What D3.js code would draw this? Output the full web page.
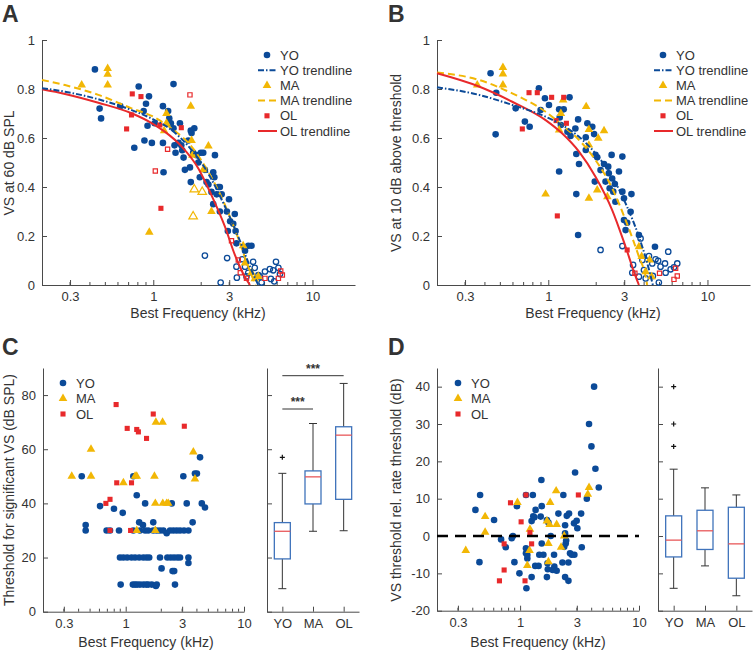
<!DOCTYPE html>
<html>
<head>
<meta charset="utf-8">
<script src="https://cdn.jsdelivr.net/npm/d3@7"></script>
<style>
  body { margin: 0; background: #fff; }
  svg text { font-family: "Liberation Sans", Arial, sans-serif; fill: #333; }
</style>
</head>
<body>
<div id="chart"></div>
<script>
// ---------- data (frequency in kHz, value) ----------
const freqTicks = [0.3, 1, 3, 10];
const groups = ["YO", "MA", "OL"];

// panel A: VS at 60 dB SPL
const aYO = [[0.43,0.88],[0.46,0.72],[0.47,0.68],[0.62,0.73],[0.76,0.56],[0.81,0.81],[0.88,0.59],[0.87,0.71],[0.90,0.74],[0.92,0.65],[0.94,0.77],[0.98,0.58],[1.02,0.66],[1.15,0.73],[1.15,0.58],[1.16,0.46],[1.24,0.71],[1.26,0.68],[1.29,0.66],[1.34,0.82],[1.34,0.64],[1.36,0.57],[1.38,0.54],[1.44,0.58],[1.47,0.66],[1.50,0.57],[1.52,0.55],[1.55,0.52],[1.58,0.47],[1.66,0.59],[1.70,0.48],[1.72,0.63],[1.74,0.62],[1.81,0.64],[1.72,0.42],[1.78,0.54],[1.87,0.53],[1.92,0.50],[1.96,0.44],[1.99,0.54],[2.06,0.54],[2.11,0.47],[2.16,0.42],[2.22,0.41],[2.32,0.38],[2.38,0.46],[2.42,0.44],[2.44,0.53],[2.38,0.33],[2.50,0.37],[2.56,0.40],[2.62,0.40],[2.69,0.37],[2.62,0.30],[2.99,0.35],[2.90,0.30],[3.04,0.26],[2.94,0.22],[3.18,0.25],[3.25,0.29],[3.29,0.22],[3.33,0.17],[3.77,0.14],[3.95,0.16],[4.14,0.16]];
const aYOopen = [[2.11,0.12],[2.65,0.01],[2.91,0.11],[3.33,0.075],[3.35,0.03],[3.62,0.105],[3.77,0.075],[3.85,0.035],[3.95,0.05],[4.24,0.095],[4.34,0.07],[4.57,0.04],[4.67,0.035],[4.79,0.01],[5.03,0.055],[5.40,0.065],[5.48,0.025],[5.67,0.06],[5.90,0.095],[6.11,0.07],[5.75,0.015],[6.25,0.045]];
const aMA = [[0.355,0.816],[0.517,0.884],[0.517,0.86],[0.517,0.816],[0.944,0.215],[1.21,0.70],[1.21,0.66],[1.17,0.63],[1.72,0.73],[1.74,0.59],[1.76,0.53],[2.06,0.47],[2.22,0.567],[2.32,0.30],[3.67,0.16],[3.77,0.09],[4.14,0.05],[4.57,0.035],[4.34,0.025]];
const aMAopen = [[1.81,0.39],[2.03,0.38],[1.78,0.28]];
const aOL = [[0.68,0.637],[0.738,0.78],[0.73,0.694],[0.837,0.769],[1.117,0.313],[1.10,0.653],[1.50,0.642]];
const aOLopen = [[1.70,0.776],[1.03,0.465],[1.23,0.554],[3.10,0.181],[3.42,0.102],[3.52,0.05],[3.85,0.027],[5.03,0.027],[6.11,0.027],[6.32,0.057],[6.47,0.041]];
const aTrendYO = [[0.2,0.803],[0.279,0.789],[0.452,0.758],[0.731,0.714],[1.0,0.676],[1.30,0.633],[1.74,0.551],[2.21,0.456],[2.82,0.320],[3.42,0.197],[4.05,0.075],[4.57,0]];
const aTrendMA = [[0.2,0.837],[0.279,0.816],[0.452,0.776],[0.731,0.721],[1.0,0.687],[1.30,0.639],[1.74,0.565],[2.21,0.463],[2.82,0.327],[3.42,0.190],[3.95,0.075],[4.39,0]];
const aTrendOL = [[0.2,0.799],[0.279,0.780],[0.452,0.744],[0.731,0.701],[1.0,0.657],[1.18,0.626],[1.51,0.565],[1.92,0.476],[2.32,0.367],[2.82,0.238],[3.26,0.122],[3.76,0.034],[4.05,0]];

// panel B: VS at 10 dB above threshold
const bYO = [[0.434,0.864],[0.471,0.785],[0.467,0.615],[0.624,0.721],[0.713,0.667],[0.764,0.646],[0.873,0.803],[0.895,0.714],[0.953,0.762],[1.01,0.735],[1.17,0.717],[1.18,0.684],[1.20,0.653],[1.25,0.717],[1.17,0.463],[1.32,0.626],[1.36,0.766],[1.38,0.608],[1.48,0.639],[1.50,0.535],[1.54,0.676],[1.56,0.494],[1.50,0.371],[1.54,0.204],[1.72,0.603],[1.76,0.66],[1.72,0.551],[1.89,0.646],[1.94,0.616],[1.96,0.422],[1.98,0.531],[2.03,0.521],[2.13,0.469],[2.24,0.494],[2.29,0.422],[2.38,0.483],[2.40,0.456],[2.43,0.395],[2.50,0.531],[2.52,0.435],[2.56,0.381],[2.64,0.34],[2.62,0.412],[2.78,0.463],[2.92,0.524],[2.92,0.381],[2.99,0.354],[2.99,0.265],[3.06,0.224],[3.13,0.254],[3.29,0.299],[3.33,0.371],[3.71,0.204],[4.68,0.156]];
const bYOopen = [[2.13,0.143],[2.92,0.159],[3.41,0.082],[3.37,0.05],[3.71,0.034],[3.80,0.19],[3.90,0.102],[3.99,0.061],[4.09,0.027],[4.29,0.118],[4.50,0.088],[4.72,0.105],[4.90,0.099],[5.07,0.075],[5.41,0.088],[5.67,0.136],[5.87,0.064],[6.16,0.072],[6.46,0.088],[4.95,0.01],[4.54,0.037],[5.46,0.05]];
const bMA = [[0.358,0.816],[0.519,0.888],[0.519,0.861],[0.519,0.816],[0.962,0.371],[1.24,0.755],[1.20,0.70],[1.17,0.633],[1.73,0.728],[1.80,0.635],[1.80,0.571],[2.06,0.599],[2.24,0.63],[2.03,0.388],[2.35,0.36],[1.80,0.354],[3.71,0.156],[3.86,0.116],[4.33,0.102],[4.46,0.034],[4.09,0.054]];
const bOL = [[0.687,0.637],[0.757,0.785],[0.853,0.785],[1.05,0.766],[1.25,0.766],[1.12,0.671],[1.30,0.66],[1.14,0.282],[3.13,0.143]];
const bOLopen = [[3.50,0.048],[5.00,0.048],[6.31,0.068],[6.46,0.037],[6.16,0.023]];
const bTrendYO = [[0.2,0.807],[0.367,0.776],[0.594,0.735],[0.962,0.687],[1.22,0.653],[1.56,0.605],[1.98,0.537],[2.52,0.442],[3.06,0.333],[3.71,0.197],[4.19,0.088],[4.54,0]];
const bTrendMA = [[0.2,0.867],[0.367,0.837],[0.594,0.782],[0.962,0.707],[1.22,0.653],[1.56,0.592],[1.98,0.51],[2.52,0.395],[3.06,0.265],[3.71,0.116],[4.09,0.034],[4.18,0]];
const bTrendOL = [[0.2,0.864],[0.367,0.81],[0.594,0.748],[0.962,0.673],[1.22,0.619],[1.56,0.544],[1.98,0.442],[2.52,0.306],[3.06,0.156],[3.54,0.034],[3.71,0]];

// panel C: threshold for significant VS (dB SPL)
const cYO = [[0.425,50],[0.459,32],[0.459,30],[0.607,39],[0.796,38],[0.944,36.5],[1.24,43],[1.16,50],[1.30,33],[1.40,32],[1.46,40],[1.71,33],[2.45,40],[3.07,50],[3.28,40],[3.85,51],[4.0,51],[4.25,57],[4.4,40],[4.68,38.5],[3.68,33],
  [0.69,30],[0.737,30],[0.878,30],[1.16,30],[1.32,30],[1.46,30],[1.55,30],[1.71,30],[1.83,30],[1.95,30],[2.08,30],[2.22,29],[2.37,30],[2.53,30],[2.70,30],[2.88,30],[3.11,30],[3.39,30],
  [0.895,20],[0.956,20],[1.03,20],[1.12,20],[1.20,20],[1.30,20],[1.41,20],[1.50,20],[1.58,20],[1.95,20],[2.25,20],[2.40,20],[2.56,20],[2.73,20],[2.88,20],[3.39,20],[3.39,18],
  [2.01,16],[2.49,15],[2.57,15],
  [0.907,10],[1.15,10],[1.20,10],[1.25,10],[1.32,10],[1.41,10],[1.49,10],[1.55,10],[1.66,10],[1.80,9.5],[1.83,10],[2.61,10]];
const cMA = [[0.35,50],[0.509,60],[0.509,50],[0.956,47.6],[1.20,50],[1.24,50],[1.75,50],[1.80,70],[2.05,70],[1.78,40],[2.06,40],[2.22,40],[2.29,40],[3.73,59],[3.85,49],[1.24,30],[1.78,30]];
const cOL = [[0.83,76.5],[1.03,67.7],[1.24,67.3],[1.28,66.4],[1.50,64],[1.71,73],[3.13,68.5],[0.84,47.6],[1.12,47.6],[0.68,40],[0.737,41.5],[0.737,30],[1.10,30]];
// box stats per group: [lower whisker, q1, median, q3, upper whisker]
const cBox = [[8.5,19.5,29.7,32.9,51.1],[29.7,39.8,49.8,52,69.5],[29.9,41.5,65.2,68.3,84.3]];
const cOutliers = [[57],[],[]];

// panel D: VS threshold relative to rate threshold (dB)
const dYO = [[4.19,40],[3.80,30],[3.98,24],[4.30,18],[4.59,13],[3.64,10],[2.90,17],[0.461,11],[0.421,7],[0.455,-7],[0.604,4.3],[0.692,-0.9],[0.757,-3],[0.85,-0.6],[0.87,0],[0.94,8],[0.896,-7],[0.987,-10],[1.12,11],[1.28,11],[1.51,15],[1.25,4],[1.29,5.3],[1.32,5],[1.35,7],[1.49,5.2],[1.52,8],[1.12,-3.3],[1.12,-4.6],[1.15,-6],[1.34,-8],[1.43,-8],[1.25,-11],[1.52,-2],[1.45,-5],[1.57,-5],[1.68,4.3],[1.81,0],[1.73,3.6],[1.93,-5],[1.94,-8.2],[1.88,-9.1],[1.70,-7.3],[1.71,-8.9],[1.68,-11],[2.03,-9.3],[2.10,6],[2.31,11],[2.27,-7.1],[2.39,2.9],[2.39,0.7],[2.42,-2],[2.44,-1.2],[2.47,5.4],[2.58,6],[2.35,-2.9],[2.55,-7.1],[2.63,-4.6],[2.72,-5],[2.86,-5],[2.84,3.4],[2.99,4.1],[3.03,2.1],[3.26,6],[3.30,-3],[1.13,-14],[2.39,-11],[2.55,-12],[1.15,-5.1]];
const dMA = [[0.349,-3.9],[0.508,5.2],[0.508,1],[0.95,9],[1.21,1.8],[1.20,-3.9],[1.15,-7.9],[1.68,4],[1.79,9],[1.77,3.1],[2.03,3.1],[2.01,12.1],[1.73,-2],[1.73,-6.9],[2.21,-3],[2.35,0],[3.80,13],[3.71,11.2]];
const dOL = [[0.83,8.9],[1.12,11],[1.02,3.8],[1.21,0.9],[1.25,-2.1],[0.734,-2.1],[0.734,-9.1],[0.67,-12],[1.10,-12],[3.09,11]];
const dBox = [[-14,-5.6,-1.1,5.4,17.9],[-8,-3.6,1.4,6.9,12.9],[-16,-11.3,-2.1,7.7,11]];
const dOutliers = [[24,30,40],[],[]];

// ---------- drawing ----------
const colYO = "#0b4a98", colMA = "#f2b705", colOL = "#e8292b";
const axisCol = "#4a4a4a";

const svg = d3.select("#chart").append("svg")
  .attr("width", 754).attr("height", 650);

function styleAxis(g){
  g.select(".domain").attr("stroke", axisCol);
  g.selectAll(".tick line").attr("stroke", axisCol);
  g.selectAll(".tick text").style("font-size", "13px").attr("fill", "#333");
}

function minorTicks(g, x, y0){
  const [lo, hi] = x.domain();
  const vals = [];
  [0.1, 1, 10].forEach(dec => { for (let k = 2; k <= 9; k++){ const v = k*dec; if (v > lo && v < hi) vals.push(v); } });
  g.selectAll(null).data(vals).join("line")
    .attr("x1", d => x(d)).attr("x2", d => x(d))
    .attr("y1", y0).attr("y2", y0 - 3)
    .attr("stroke", axisCol);
}

function scatterAxes(x, y, yTicks, fmt){
  const g = svg.append("g");
  const y0 = y.range()[0];
  g.append("g").attr("transform", `translate(0,${y0})`)
    .call(d3.axisBottom(x).tickValues(freqTicks).tickFormat(d => String(d))
      .tickSize(-5).tickSizeOuter(0).tickPadding(7))
    .call(styleAxis);
  minorTicks(g, x, y0);
  g.append("g").attr("transform", `translate(${x.range()[0]},0)`)
    .call(d3.axisLeft(y).tickValues(yTicks).tickFormat(fmt)
      .tickSize(-5).tickSizeOuter(0).tickPadding(7))
    .call(styleAxis);
  return g;
}

function drawPoints(g, data, x, y, kind, color, open){
  if (kind === "circle"){
    g.selectAll(null).data(data).join("circle")
      .attr("cx", d => x(d[0])).attr("cy", d => y(d[1]))
      .attr("r", open ? 2.7 : 3.3)
      .attr("fill", open ? "none" : color)
      .attr("stroke", open ? color : "none")
      .attr("stroke-width", 1.3);
  } else {
    const sym = d3.symbol()
      .type(kind === "tri" ? d3.symbolTriangle : d3.symbolSquare)
      .size(kind === "tri" ? 32 : (open ? 18 : 26));
    g.selectAll(null).data(data).join("path")
      .attr("transform", d => `translate(${x(d[0])},${y(d[1])})`)
      .attr("d", sym)
      .attr("fill", open ? "none" : color)
      .attr("stroke", open ? color : "none")
      .attr("stroke-width", 1.2);
  }
}

function drawTrend(g, data, x, y, color, dash){
  g.append("path").datum(data)
    .attr("fill", "none").attr("stroke", color).attr("stroke-width", 2)
    .attr("stroke-dasharray", dash)
    .attr("d", d3.line().x(d => x(d[0])).y(d => y(d[1])).curve(d3.curveMonotoneX));
}

function legend(x0, y0, step, items){
  const g = svg.append("g");
  items.forEach((it, i) => {
    const yy = y0 + i*step;
    if (it.dash !== undefined){
      g.append("line").attr("x1", x0 - 9).attr("x2", x0 + 10).attr("y1", yy).attr("y2", yy)
        .attr("stroke", it.color).attr("stroke-width", 2).attr("stroke-dasharray", it.dash);
    } else {
      drawPoints(g, [[0,0]], () => x0, () => yy, it.kind, it.color, false);
    }
    g.append("text").attr("x", x0 + 13).attr("y", yy + 4.5)
      .style("font-size", "13px").text(it.label);
  });
}

function yLabel(x, yc, txt){
  svg.append("text").attr("transform", `translate(${x},${yc}) rotate(-90)`)
    .attr("text-anchor", "middle").style("font-size", "14px").text(txt);
}
function xLabel(xc, y, txt){
  svg.append("text").attr("x", xc).attr("y", y)
    .attr("text-anchor", "middle").style("font-size", "14px").text(txt);
}
function panelLetter(x, y, t){
  svg.append("text").attr("x", x).attr("y", y)
    .style("font-size", "23px").style("font-weight", "bold").attr("fill", "#000").text(t);
}

function boxPanel(x0, x1, y, yTicks, stats, outliers){
  const x = d3.scaleLinear().domain([0.5, 3.5]).range([x0, x1]);
  const g = svg.append("g");
  g.append("g").attr("transform", `translate(0,${y.range()[0]})`)
    .call(d3.axisBottom(x).tickValues([1, 2, 3]).tickFormat(d => groups[d-1])
      .tickSize(-5).tickSizeOuter(0).tickPadding(7))
    .call(styleAxis);
  g.append("g").attr("transform", `translate(${x0},0)`)
    .call(d3.axisLeft(y).tickValues(yTicks).tickFormat("")
      .tickSize(-5).tickSizeOuter(0))
    .call(styleAxis);
  const bw = 16, cw = 8;
  stats.forEach((s, i) => {
    const cx = x(i + 1);
    const [lo, q1, med, q3, hi] = s;
    const wh = g.append("g").attr("stroke", "#333").attr("stroke-width", 1);
    wh.append("line").attr("x1", cx).attr("x2", cx).attr("y1", y(hi)).attr("y2", y(q3));
    wh.append("line").attr("x1", cx).attr("x2", cx).attr("y1", y(q1)).attr("y2", y(lo));
    wh.append("line").attr("x1", cx - cw/2).attr("x2", cx + cw/2).attr("y1", y(hi)).attr("y2", y(hi));
    wh.append("line").attr("x1", cx - cw/2).attr("x2", cx + cw/2).attr("y1", y(lo)).attr("y2", y(lo));
    g.append("rect").attr("x", cx - bw/2).attr("y", y(q3)).attr("width", bw).attr("height", y(q1) - y(q3))
      .attr("fill", "none").attr("stroke", "#3f73bb").attr("stroke-width", 1.3);
    g.append("line").attr("x1", cx - bw/2).attr("x2", cx + bw/2).attr("y1", y(med)).attr("y2", y(med))
      .attr("stroke", "#e8585a").attr("stroke-width", 1.3);
    outliers[i].forEach(o => {
      g.append("path").attr("d", `M${cx-2.5},${y(o)}h5M${cx},${y(o)-2.5}v5`)
        .attr("stroke", "#111").attr("stroke-width", 1.2);
    });
  });
  return { g, x };
}

// ----- Panel A -----
const xA = d3.scaleLog().domain([0.2, 18.5]).range([42, 355]);
const yA = d3.scaleLinear().domain([0, 1]).range([285, 40]);
const gA = scatterAxes(xA, yA, [0, 0.2, 0.4, 0.6, 0.8, 1], d => String(d));
drawPoints(gA, aYO, xA, yA, "circle", colYO, false);
drawPoints(gA, aYOopen, xA, yA, "circle", colYO, true);
drawPoints(gA, aMA, xA, yA, "tri", colMA, false);
drawPoints(gA, aMAopen, xA, yA, "tri", colMA, true);
drawPoints(gA, aOL, xA, yA, "square", colOL, false);
drawPoints(gA, aOLopen, xA, yA, "square", colOL, true);
drawTrend(gA, aTrendMA, xA, yA, colMA, "7,4");
drawTrend(gA, aTrendOL, xA, yA, colOL, null);
drawTrend(gA, aTrendYO, xA, yA, colYO, "6,2,1.5,2");
legend(267, 55, 15.2, [
  { kind: "circle", color: colYO, label: "YO" },
  { dash: "6,2,1.5,2", color: colYO, label: "YO trendline" },
  { kind: "tri", color: colMA, label: "MA" },
  { dash: "7,4", color: colMA, label: "MA trendline" },
  { kind: "square", color: colOL, label: "OL" },
  { dash: null, color: colOL, label: "OL trendline" }
]);
yLabel(14, 163, "VS at 60 dB SPL");
xLabel(198, 318, "Best Frequency (kHz)");
panelLetter(2, 22, "A");

// ----- Panel B -----
const xB = d3.scaleLog().domain([0.2, 18.5]).range([437, 750]);
const yB = d3.scaleLinear().domain([0, 1]).range([285, 40]);
const gB = scatterAxes(xB, yB, [0, 0.2, 0.4, 0.6, 0.8, 1], d => String(d));
drawPoints(gB, bYO, xB, yB, "circle", colYO, false);
drawPoints(gB, bYOopen, xB, yB, "circle", colYO, true);
drawPoints(gB, bMA, xB, yB, "tri", colMA, false);
drawPoints(gB, bOL, xB, yB, "square", colOL, false);
drawPoints(gB, bOLopen, xB, yB, "square", colOL, true);
drawTrend(gB, bTrendMA, xB, yB, colMA, "7,4");
drawTrend(gB, bTrendOL, xB, yB, colOL, null);
drawTrend(gB, bTrendYO, xB, yB, colYO, "6,2,1.5,2");
legend(663, 55, 15.2, [
  { kind: "circle", color: colYO, label: "YO" },
  { dash: "6,2,1.5,2", color: colYO, label: "YO trendline" },
  { kind: "tri", color: colMA, label: "MA" },
  { dash: "7,4", color: colMA, label: "MA trendline" },
  { kind: "square", color: colOL, label: "OL" },
  { dash: null, color: colOL, label: "OL trendline" }
]);
yLabel(401, 163, "VS at 10 dB above threshold");
xLabel(593, 318, "Best Frequency (kHz)");
panelLetter(388, 22, "B");

// ----- Panel C -----
const xC = d3.scaleLog().domain([0.2, 10]).range([43, 244]);
const yC = d3.scaleLinear().domain([0, 90]).range([611.7, 368]);
const cTicks = [0, 20, 40, 60, 80];
const gC = scatterAxes(xC, yC, cTicks, d => String(d));
drawPoints(gC, cYO, xC, yC, "circle", colYO, false);
drawPoints(gC, cMA, xC, yC, "tri", colMA, false);
drawPoints(gC, cOL, xC, yC, "square", colOL, false);
legend(63, 383, 15.5, [
  { kind: "circle", color: colYO, label: "YO" },
  { kind: "tri", color: colMA, label: "MA" },
  { kind: "square", color: colOL, label: "OL" }
]);
yLabel(14, 490, "Threshold for significant VS (dB SPL)");
xLabel(146, 647, "Best Frequency (kHz)");
panelLetter(2, 355, "C");
const boxC = boxPanel(267, 359, yC, cTicks, cBox, cOutliers);
// significance bars
[[1, 3, 375.7], [1, 2, 409]].forEach(([a, b, yy]) => {
  boxC.g.append("line").attr("x1", boxC.x(a)).attr("x2", boxC.x(b)).attr("y1", yy).attr("y2", yy)
    .attr("stroke", "#333").attr("stroke-width", 1);
  boxC.g.append("text").attr("x", (boxC.x(a) + boxC.x(b))/2).attr("y", yy - 3)
    .attr("text-anchor", "middle").style("font-size", "12px").style("font-weight", "bold").text("***");
});

// ----- Panel D -----
const xD = d3.scaleLog().domain([0.2, 10]).range([437, 639]);
const yD = d3.scaleLinear().domain([-20, 45]).range([610.7, 368]);
const dTicks = [-20, -10, 0, 10, 20, 30, 40];
const gD = scatterAxes(xD, yD, dTicks, d => String(d));
drawPoints(gD, dYO, xD, yD, "circle", colYO, false);
drawPoints(gD, dMA, xD, yD, "tri", colMA, false);
drawPoints(gD, dOL, xD, yD, "square", colOL, false);
gD.append("line").attr("x1", xD.range()[0]).attr("x2", xD.range()[1])
  .attr("y1", yD(0)).attr("y2", yD(0))
  .attr("stroke", "#000").attr("stroke-width", 2.5).attr("stroke-dasharray", "11,7");
legend(458, 383, 15.5, [
  { kind: "circle", color: colYO, label: "YO" },
  { kind: "tri", color: colMA, label: "MA" },
  { kind: "square", color: colOL, label: "OL" }
]);
yLabel(401, 490, "VS threshold rel. rate threshold (dB)");
xLabel(538, 647, "Best Frequency (kHz)");
panelLetter(388, 355, "D");
boxPanel(658, 752, yD, dTicks, dBox, dOutliers);
</script>
</body>
</html>
